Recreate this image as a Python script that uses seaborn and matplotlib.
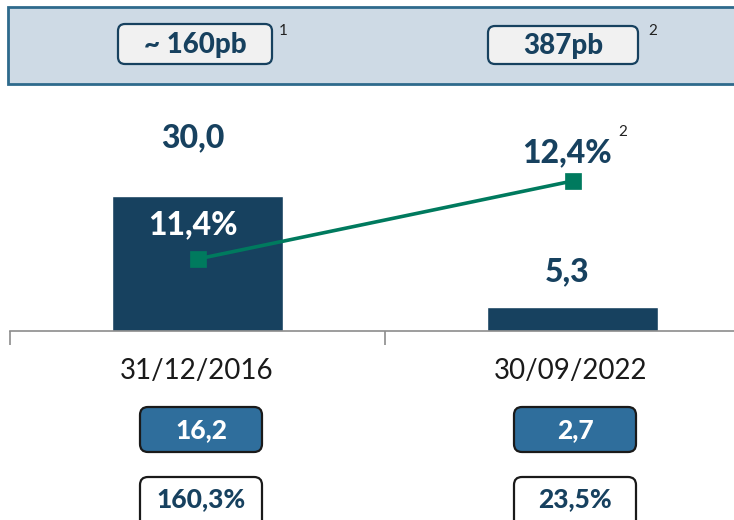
import matplotlib
matplotlib.use("Agg")
import matplotlib.pyplot as plt
from matplotlib.patches import FancyBboxPatch, Rectangle
import pandas as pd
import seaborn as sns

# datos
fechas = ["31/12/2016", "30/09/2022"]
saldo = [30.0, 5.3]
ratio = [11.4, 12.4]
ratio_notas = ["", "2"]
spread = ["~ 160pb", "387pb"]
spread_notas = ["1", "2"]
caja = [16.2, 2.7]
cobertura = [160.3, 23.5]

NAVY = "#17415F"
GREEN = "#007A5E"
BLUE_BOX = "#2F6E9C"


def coma(v, dec=1):
    return f"{v:.{dec}f}".replace(".", ",")


sns.set_theme(style="white")
plt.rcParams["font.family"] = ["Lato", "DejaVu Sans"]

W, H = 734, 520
fig = plt.figure(figsize=(W / 100, H / 100), dpi=100)

# eje principal (barras)
base_y, top_y = 331, 90
ax = fig.add_axes([10 / W, (H - base_y) / H, 750 / W, (base_y - top_y) / H])
df = pd.DataFrame({"fecha": fechas, "saldo": saldo, "ratio": ratio})
sns.barplot(data=df, x="fecha", y="saldo", color=NAVY, width=0.456,
            saturation=1, ax=ax)
ax.set_ylim(0, (base_y - top_y) / 4.5)
ax.set_xlim(-0.5, 1.5)
ax.set_xticks([-0.5, 0.5, 1.5])
ax.set_xticklabels([])
ax.set_yticks([])
ax.set_xlabel("")
ax.set_ylabel("")
for s in ["top", "left", "right"]:
    ax.spines[s].set_visible(False)
ax.spines["bottom"].set_color("#8C8C8C")
ax.spines["bottom"].set_linewidth(1.2)
ax.tick_params(axis="x", direction="out", length=10, width=1.2,
               color="#8C8C8C", bottom=True)
ax.patch.set_alpha(0)

# eje secundario (linea)
ax2 = ax.twinx()
sns.pointplot(data=df, x="fecha", y="ratio", color=GREEN, markers="s",
              markersize=10, linewidth=2.6, ax=ax2)
ax2.set_xlim(-0.5, 1.5)
ax2.set_ylim(10.477, 13.567)
ax2.set_yticks([])
ax2.set_ylabel("")
ax2.set_xlabel("")
for s in ax2.spines.values():
    s.set_visible(False)
ax2.patch.set_alpha(0)

# capa de anotaciones en pixeles
ov = fig.add_axes([0, 0, 1, 1], zorder=5)
ov.set_xlim(0, W)
ov.set_ylim(H, 0)
ov.axis("off")
ov.patch.set_alpha(0)

# franja superior
ov.add_patch(Rectangle((8, 7), 740, 77, facecolor="#CEDAE5",
                       edgecolor="#2E6A8C", linewidth=2))
hdr_boxes = [(118, 24, 154, 40, 195), (488, 26, 150, 38, 563)]
sup_x = [283, 653]
for (x0, y0, w, h, cx), txt, nota, sx in zip(hdr_boxes, spread, spread_notas, sup_x):
    ov.add_patch(FancyBboxPatch((x0, y0), w, h,
                                boxstyle="round,pad=0,rounding_size=7",
                                facecolor="#F1F1F1", edgecolor=NAVY, linewidth=1.6))
    ov.text(cx, y0 + h / 2 + 1, txt, ha="center", va="center", fontsize=20,
            fontweight="black", color=NAVY)
    ov.text(sx, 31, nota, ha="center", va="center", fontsize=11, color="#222222")

# etiquetas de valores
cx = [197, 571]
saldo_y = [138, 272]
for x, v, y in zip(cx, saldo, saldo_y):
    ov.text(x - 4, y, coma(v), ha="center", va="center", fontsize=23,
            fontweight="black", color=NAVY)

ratio_y = [225, 153]
ratio_col = ["white", NAVY]
for x, v, y, c, nota in zip(cx, ratio, ratio_y, ratio_col, ratio_notas):
    ov.text(x - 4, y, coma(v) + "%", ha="center", va="center", fontsize=23,
            fontweight="black", color=c)
    if nota:
        ov.text(x + 52, 132, nota, ha="center", va="center", fontsize=11,
                color="#222222")

# fechas
for x, f in zip(cx, fechas):
    ov.text(x, 371, f, ha="center", va="center", fontsize=20, color="#1A1A1A")

# cajas inferiores
for x, v, c in zip(cx, caja, cobertura):
    ov.add_patch(FancyBboxPatch((x - 57, 407), 122, 45,
                                boxstyle="round,pad=0,rounding_size=8",
                                facecolor=BLUE_BOX, edgecolor="#1A1A1A", linewidth=1.6))
    ov.text(x + 4, 430, coma(v), ha="center", va="center", fontsize=19,
            fontweight="black", color="white")
    ov.add_patch(FancyBboxPatch((x - 57, 477), 122, 60,
                                boxstyle="round,pad=0,rounding_size=8",
                                facecolor="white", edgecolor="#1A1A1A", linewidth=1.6))
    ov.text(x + 4, 499, coma(c) + "%", ha="center", va="center", fontsize=19,
            fontweight="black", color=NAVY)

fig.savefig("out.png", dpi=100)
